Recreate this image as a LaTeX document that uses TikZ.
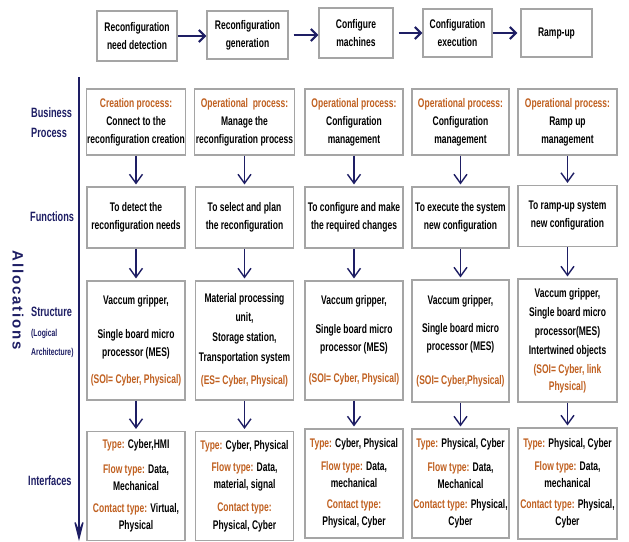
\documentclass[tikz,border=0pt]{standalone}
\usepackage{fontspec}
\setmainfont[FakeStretch=0.68]{Liberation Sans}
\newfontfamily\allocfont[LetterSpace=12]{Liberation Sans}
\usepackage{xcolor}
\usetikzlibrary{arrows.meta}

\definecolor{navy}{RGB}{30,30,100}
\definecolor{procorange}{RGB}{192,96,32}
\definecolor{boxgray}{RGB}{165,165,165}
\newcommand{\hl}[1]{\textcolor{procorange}{#1}}

\begin{document}
\begin{tikzpicture}[x=1pt, y=-1pt, font=\fontsize{12.5}{18}\selectfont\bfseries,
  gbox/.style={draw=boxgray, line width=1.1pt, align=center, inner sep=1pt, fill=white},
  bpbox/.style={gbox, minimum width=98pt, minimum height=66pt},
  fnbox/.style={gbox, minimum width=98pt, minimum height=61pt},
  stbox/.style={gbox, minimum width=98pt, minimum height=119pt},
  ifbox/.style={gbox, minimum width=98pt, minimum height=109pt, font=\fontsize{12.5}{17}\selectfont\bfseries},
  rowlbl/.style={text=navy, font=\fontsize{13.5}{20}\selectfont\bfseries, align=left, anchor=west, inner sep=0pt},
  down/.style={draw=navy, line width=1.4pt, shorten >=2pt, -{Straight Barb[length=9pt,width=13pt]}},
  flow/.style={draw=navy, line width=2.2pt, -{Straight Barb[length=6pt,width=12pt]}}]
  \useasboundingbox (0,0) rectangle (629,541);

  % top row: reconfiguration steps
  \node[gbox, minimum width=80pt, minimum height=50pt] (detect) at (137,36) {Reconfiguration\\need detection};
  \node[gbox, minimum width=81pt, minimum height=48pt] (generate) at (247.5,35) {Reconfiguration\\generation};
  \node[gbox, minimum width=74pt, minimum height=50pt] (configure) at (356,33) {Configure\\machines};
  \node[gbox, minimum width=69pt, minimum height=48pt] (execute) at (457.5,33) {Configuration\\execution};
  \node[gbox, minimum width=71pt, minimum height=48pt] (rampup) at (556.5,33) {Ramp-up};
  \draw[flow] (detect.east) -- (detect.east -| generate.west);
  \draw[flow, shorten <=5pt] (generate.east) -- (generate.east -| configure.west);
  \draw[flow, shorten <=5pt] (configure.east) -- (configure.east -| execute.west);
  \draw[flow, shorten >=3pt] (execute.east) -- (execute.east -| rampup.west);

  % allocation axis
  \coordinate (alloctop) at (79,77);
  \coordinate (allocbot) at (79,541);
  \draw[navy, line width=1.3pt, -{Stealth[length=26pt,width=13pt,inset=15pt]}] (alloctop) -- (allocbot);
  \node[rotate=-90, text=navy, font=\fontsize{15}{17}\selectfont\allocfont\bfseries] (alloc) at (18,300) {Allocations};

  % row labels
  \node[rowlbl] (lblbp) at (31,123) {Business\\Process};
  \node[rowlbl] (lblfn) at (30,217) {Functions};
  \node[rowlbl, anchor=base west] (lblst) at (31,316) {Structure};
  \node[rowlbl, anchor=base west, font=\fontsize{10}{11}\selectfont\bfseries] (lbllog) at (31,336) {(Logical};
  \node[rowlbl, anchor=base west, font=\fontsize{10}{11}\selectfont\bfseries] (lblarch) at (31,355) {Architecture)};
  \node[rowlbl] (lblif) at (28,481) {Interfaces};

  % business process
  \node[bpbox] (bp1) at (136,122) {\hl{Creation process:}\\Connect to the\\reconfiguration creation};
  \node[bpbox] (bp2) at (244.5,122) {\hl{Operational\ \ process:}\\Manage the\\reconfiguration process};
  \node[bpbox] (bp3) at (354,122) {\hl{Operational process:}\\Configuration\\management};
  \node[bpbox, minimum width=97pt] (bp4) at (460.5,122) {\hl{Operational process:}\\Configuration\\management};
  \node[bpbox, minimum width=99pt] (bp5) at (567.5,122) {\hl{Operational process:}\\Ramp up\\management};

  % functions
  \node[fnbox] (fn1) at (136,217.5) {To detect the\\reconfiguration needs};
  \node[fnbox] (fn2) at (244.5,217.5) {To select and plan\\the reconfiguration};
  \node[fnbox] (fn3) at (354,217.5) {To configure and make\\the required changes};
  \node[fnbox, minimum width=97pt] (fn4) at (460.5,217.5) {To execute the system\\new configuration};
  \node[fnbox, minimum width=99pt] (fn5) at (567.5,216) {To ramp-up system\\new configuration};

  % structure
  \node[stbox] (st1) at (136,340.5) {Vaccum gripper,\\[16pt]Single board micro\\processor (MES)\\[9pt]\hl{(SOI= Cyber, Physical)}};
  \node[stbox] (st2) at (244.5,340.5) {Material processing\\[1pt]unit,\\[2pt]Storage station,\\[2pt]Transportation system\\[5pt]\hl{(ES= Cyber, Physical)}};
  \node[stbox] (st3) at (354,340.5) {Vaccum gripper,\\[11pt]Single board micro\\processor (MES)\\[13pt]\hl{(SOI= Cyber, Physical)}};
  \node[stbox, minimum width=97pt, minimum height=122pt] (st4) at (460.5,341) {Vaccum gripper,\\[10pt]Single board micro\\processor (MES)\\[16pt]\hl{(SOI= Cyber,Physical)}};
  \node[stbox, minimum width=99pt, minimum height=123pt, font=\fontsize{12.5}{19}\selectfont\bfseries] (st5) at (567.5,340.5) {Vaccum gripper,\\Single board micro\\processor(MES)\\Intertwined objects\\\hl{(SOI= Cyber, link}\\[-2pt]\hl{Physical)}};

  % interfaces
  \node[ifbox] (if1) at (136,486) {\hl{Type:} Cyber,HMI\\[8pt]\hl{Flow type:} Data,\\Mechanical\\[5pt]\hl{Contact type:} Virtual,\\Physical};
  \node[ifbox] (if2) at (244.5,486) {\hl{Type:} Cyber, Physical\\[5pt]\hl{Flow type:} Data,\\material, signal\\[6pt]\hl{Contact type:}\\[1pt]Physical, Cyber};
  \node[ifbox] (if3) at (354,483.5) {\hl{Type:} Cyber, Physical\\[6pt]\hl{Flow type:} Data,\\mechanical\\[4pt]\hl{Contact type:}\\Physical, Cyber};
  \node[ifbox, minimum width=97pt] (if4) at (460.5,483.5) {\hl{Type:} Physical, Cyber\\[7pt]\hl{Flow type:} Data,\\Mechanical\\[3pt]\hl{Contact type:} Physical,\\Cyber};
  \node[ifbox, minimum width=99pt, minimum height=111pt] (if5) at (567.5,483.5) {\hl{Type:} Physical, Cyber\\[6pt]\hl{Flow type:} Data,\\mechanical\\[4pt]\hl{Contact type:} Physical,\\Cyber};

  % allocation arrows
  \foreach \c in {1,...,5} {
    \draw[down] (bp\c) -- (fn\c);
    \draw[down] (fn\c) -- (st\c);
    \draw[down] (st\c) -- (if\c);
  }
\end{tikzpicture}
\end{document}
